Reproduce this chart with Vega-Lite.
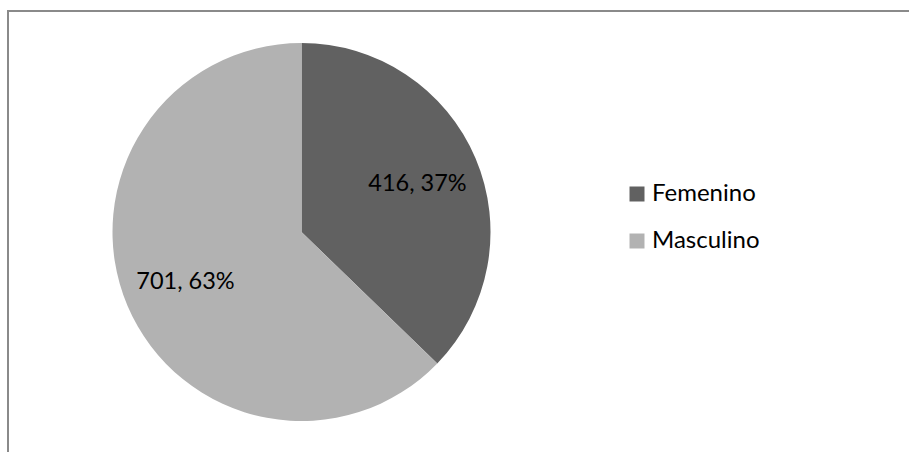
{
  "$schema": "https://vega.github.io/schema/vega-lite/v6.json",
  "autosize": {"type": "none"},
  "padding": {"left": 8, "top": 11, "right": -4, "bottom": -4},
  "width": 905,
  "height": 445,
  "background": "#ffffff",
  "view": {"stroke": "#8a8a8a", "strokeWidth": 2, "fill": "#ffffff"},
  "config": {
    "font": "Lato"
  },
  "data": {
    "values": [
      {"sexo": "Femenino", "n": 416, "label": "416, 37%"},
      {"sexo": "Masculino", "n": 701, "label": "701, 63%"}
    ]
  },
  "encoding": {
    "theta": {"field": "n", "type": "quantitative", "stack": true},
    "order": {"field": "n", "type": "quantitative", "sort": "ascending"}
  },
  "layer": [
    {
      "mark": {"type": "arc", "x": 293.5, "y": 221, "outerRadius": 189},
      "encoding": {
        "color": {
          "field": "sexo",
          "type": "nominal",
          "scale": {"domain": ["Femenino", "Masculino"], "range": ["#616161", "#b2b2b2"]},
          "legend": {
            "title": null,
            "orient": "none",
            "legendX": 617,
            "legendY": 171,
            "symbolType": "square",
            "symbolSize": 225,
            "symbolStrokeWidth": 0,
            "symbolOpacity": 1,
            "labelFontSize": 24,
            "labelColor": "#000000",
            "labelOffset": 3,
            "rowPadding": 23,
            "padding": 0
          }
        }
      }
    },
    {
      "mark": {"type": "text", "x": 293.5, "y": 222, "radius": 126, "fontSize": 23.5, "color": "#000000"},
      "encoding": {
        "text": {"field": "label", "type": "nominal"}
      }
    }
  ]
}
